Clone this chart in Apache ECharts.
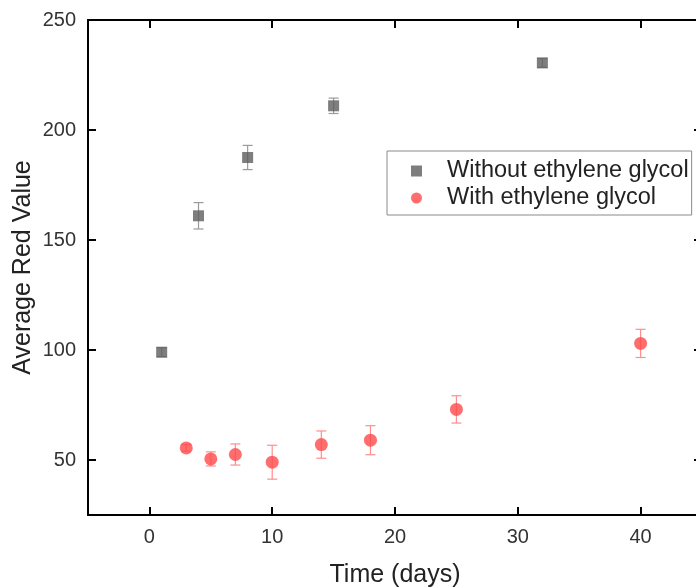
<!DOCTYPE html>
<html>
<head>
<meta charset="utf-8">
<script src="https://cdn.jsdelivr.net/npm/echarts@6/dist/echarts.min.js"></script>
<style>
  html, body { margin: 0; padding: 0; background: #fff; }
  #chart { width: 696px; height: 588px; }
</style>
</head>
<body>
<div id="chart"></div>
<script>
// Average red value over time, with and without ethylene glycol (mean ± error)
const daysWithout = [1, 4, 8, 15, 32];
const redWithout = [99, 161, 187.5, 211, 230.5];
const errWithout = [2, 6, 5.5, 3.5, 2];

const daysWith = [3, 5, 7, 10, 14, 18, 25, 40];
const redWith = [55.5, 50.5, 52.5, 49, 57, 59, 73, 103];
const errWith = [1.5, 3.2, 4.8, 7.7, 6.2, 6.6, 6.2, 6.4];

const xTicks = [0, 10, 20, 30, 40];
const yTicks = [50, 100, 150, 200, 250];

const grayColor = '#5e5e5e';
const redColor = '#ff4a4a';
const font = '"Liberation Sans", Arial, sans-serif';

function toPairs(xs, ys) { return xs.map((x, i) => [x, ys[i]]); }
function toErr(xs, ys, es) { return xs.map((x, i) => [x, ys[i] - es[i], ys[i] + es[i]]); }

function errorBarRenderer(color) {
  return function (params, api) {
    const x = api.value(0);
    const lo = api.coord([x, api.value(1)]);
    const hi = api.coord([x, api.value(2)]);
    const cap = 5;
    const style = { stroke: color, lineWidth: 1.2 };
    return {
      type: 'group',
      children: [
        { type: 'line', shape: { x1: lo[0], y1: lo[1], x2: hi[0], y2: hi[1] }, style },
        { type: 'line', shape: { x1: lo[0] - cap, y1: lo[1], x2: lo[0] + cap, y2: lo[1] }, style },
        { type: 'line', shape: { x1: hi[0] - cap, y1: hi[1], x2: hi[0] + cap, y2: hi[1] }, style }
      ]
    };
  };
}

const axisLine = { show: true, onZero: false, lineStyle: { color: '#000', width: 2 } };
function ticksAt(values) {
  return { show: true, inside: true, length: 8, customValues: values, lineStyle: { color: '#000', width: 2 } };
}

const chart = echarts.init(document.getElementById('chart'), null, { renderer: 'canvas' });
chart.setOption({
  animation: false,
  backgroundColor: '#fff',
  grid: {
    left: 88, top: 20, width: 614, height: 495,
    containLabel: false, outerBoundsMode: 'none'
  },
  legend: {
    left: 387, top: 151,
    orient: 'vertical',
    itemGap: 3,
    itemWidth: 11, itemHeight: 11,
    padding: [8, 3, 5, 24],
    borderColor: '#8a8a8a', borderWidth: 1,
    textStyle: { fontFamily: font, fontSize: 23.5, color: '#222', padding: [0, 0, 0, 20] },
    data: [
      { name: 'Without ethylene glycol', icon: 'rect' },
      { name: 'With ethylene glycol', icon: 'circle' }
    ]
  },
  xAxis: [
    {
      type: 'value', min: -5, max: 45, interval: 10,
      position: 'bottom',
      name: 'Time (days)', nameLocation: 'middle', nameGap: 48, nameMoveOverlap: false,
      nameTextStyle: { fontFamily: font, fontSize: 25, color: '#222' },
      axisLine, axisTick: ticksAt(xTicks),
      axisLabel: {
        margin: 12, fontFamily: font, fontSize: 20, color: '#333',
        customValues: xTicks
      },
      splitLine: { show: false }
    },
    {
      type: 'value', min: -5, max: 45, interval: 10,
      position: 'top',
      axisLine, axisTick: ticksAt(xTicks),
      axisLabel: { show: false },
      splitLine: { show: false }
    }
  ],
  yAxis: [
    {
      type: 'value', min: 25, max: 250, interval: 25,
      position: 'left',
      name: 'Average Red Value', nameLocation: 'middle', nameGap: 52, nameRotate: 90,
      nameMoveOverlap: false,
      nameTextStyle: { fontFamily: font, fontSize: 25, color: '#222' },
      axisLine, axisTick: ticksAt(yTicks),
      axisLabel: {
        margin: 12, fontFamily: font, fontSize: 20, color: '#333',
        customValues: yTicks
      },
      splitLine: { show: false }
    },
    {
      type: 'value', min: 25, max: 250, interval: 25,
      position: 'right',
      axisLine, axisTick: ticksAt(yTicks),
      axisLabel: { show: false },
      splitLine: { show: false }
    }
  ],
  series: [
    {
      type: 'custom', name: 'errWithout', silent: true,
      renderItem: errorBarRenderer('#9a9a9a'),
      encode: { x: 0, y: [1, 2] },
      data: toErr(daysWithout, redWithout, errWithout), z: 2
    },
    {
      type: 'custom', name: 'errWith', silent: true,
      renderItem: errorBarRenderer('#ff8e8e'),
      encode: { x: 0, y: [1, 2] },
      data: toErr(daysWith, redWith, errWith), z: 2
    },
    {
      type: 'scatter', name: 'Without ethylene glycol',
      symbol: 'rect', symbolSize: 11,
      itemStyle: { color: grayColor },
      data: toPairs(daysWithout, redWithout), z: 3
    },
    {
      type: 'scatter', name: 'With ethylene glycol',
      symbol: 'circle', symbolSize: 13,
      itemStyle: { color: redColor },
      data: toPairs(daysWith, redWith), z: 3
    }
  ]
});
</script>
</body>
</html>
